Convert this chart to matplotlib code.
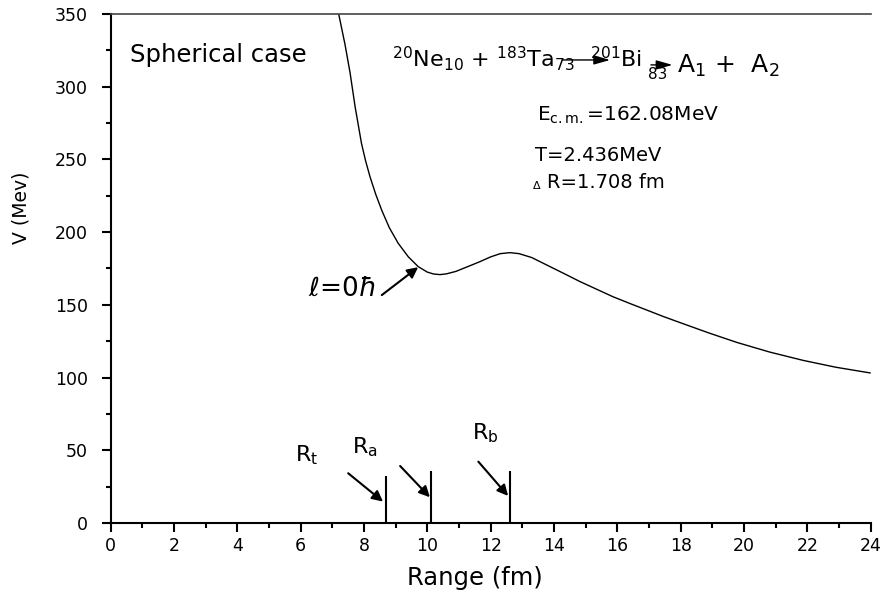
from matplotlib import pyplot as plt
import numpy as np

# potential curve V(R)
r_fm = [7.0, 7.2, 7.4, 7.56, 7.72, 7.92, 8.05, 8.19, 8.37, 8.56, 8.8, 9.08, 9.4,
        9.71, 10.0, 10.2, 10.4, 10.6, 10.9, 11.3, 11.66, 12.0, 12.3, 12.61, 12.9,
        13.3, 13.77, 14.3, 14.82, 15.35, 15.86, 16.4, 16.92, 17.45, 17.98, 18.9,
        19.77, 20.8, 21.87, 22.9, 23.98]
v_mev = [375, 350, 329, 309.5, 286, 261, 249, 238, 226, 215, 203, 192.3, 183,
         176.3, 172.5, 171.2, 170.8, 171.3, 173, 176.5, 179.7, 183.0, 185.2, 185.9, 185.2,
         182.5, 177.4, 171.7, 166, 160.7, 155.6, 150.9, 146.5, 142.0, 137.8, 130.6,
         124.2, 117.6, 111.8, 107.1, 103.2]

# characteristic radii
r_marks = [8.68, 10.13, 12.61]
r_heights = [32.3, 35.8, 35.8]
r_names = [r'R$_\mathrm{t}$', r'R$_\mathrm{a}$', r'R$_\mathrm{b}$']

plt.rcParams['mathtext.fontset'] = 'dejavusans'

fig = plt.figure(figsize=(8.8, 6.01), dpi=100)
ax = fig.add_axes([0.1258, 0.1298, 0.8636, 0.8469])

ax.plot(r_fm, v_mev, color='black', lw=1.0)
ax.vlines(r_marks, 0, r_heights, color='black', lw=1.5)

ax.set_xlim(0, 24)
ax.set_ylim(0, 350)
ax.set_xticks(np.arange(0, 25, 2))
ax.set_xticks(np.arange(0, 25, 1), minor=True)
ax.set_yticks(np.arange(0, 351, 50))
ax.set_yticks(np.arange(0, 351, 25), minor=True)
ax.tick_params(which='major', direction='out', length=6.5, width=1.5, labelsize=12.5)
ax.tick_params(which='minor', direction='out', length=3.5, width=1.5)
ax.tick_params(axis='y', which='major', pad=10)
ax.spines['right'].set_visible(False)
for s in ['left', 'bottom']:
    ax.spines[s].set_linewidth(1.5)
ax.spines['top'].set_linewidth(1.2)
ax.spines['top'].set_color('#444444')

ax.set_xlabel('Range (fm)', fontsize=17.5)
ax.xaxis.set_label_coords(0.479, -0.085)
ax.set_ylabel('V (Mev)', fontsize=13.5)
ax.yaxis.set_label_coords(-0.106, 0.619)

ax.text(0.6, 322, 'Spherical case', fontsize=17.5, va='center')

# reaction
ax.text(8.88, 313.6, r'$^{20}$Ne$_{10}$ + $^{183}$Ta$_{73}$', fontsize=16, va='baseline')
ax.text(15.13, 313.6, r'$^{201}$Bi', fontsize=16, va='baseline')
ax.text(16.98, 305.0, '83', fontsize=11, va='baseline')
ax.text(17.88, 309.5, r'A$_1$ +  A$_2$', fontsize=18, va='baseline')
arr = dict(arrowstyle='-|>,head_length=0.7,head_width=0.2', color='black', lw=1.0,
           mutation_scale=14, shrinkA=0, shrinkB=0)
ax.annotate('', xy=(15.77, 318.4), xytext=(14.27, 318.4), arrowprops=arr)
ax.annotate('', xy=(17.74, 315), xytext=(17.06, 315), arrowprops=arr)

ax.text(13.46, 280.6, r'E$_{\mathrm{c.m.}}$=162.08MeV', fontsize=14.5, va='center')
ax.text(13.4, 253, 'T=2.436MeV', fontsize=14, va='center')
ax.text(13.3, 232.5, r'$\Delta$', fontsize=8, va='center')
ax.text(13.78, 233.8, 'R=1.708 fm', fontsize=14, va='center')

# l = 0 label
ax.text(6.24, 161, r'$\ell$=0$\hbar$', fontsize=19, va='center')
ax.annotate('', xy=(9.71, 175.9), xytext=(8.56, 156.7),
            arrowprops=dict(arrowstyle='-|>', color='black', lw=1.5, mutation_scale=16,
                            shrinkA=0, shrinkB=0))

# radius labels and arrows
lab_pos = [(5.82, 46.8), (7.62, 52), (11.41, 62)]
tails = [(7.50, 34.2), (9.14, 39.2), (11.61, 42.2)]
tips = [(8.60, 14.7), (10.08, 17.7), (12.55, 18.6)]
for name, p, t0, t1 in zip(r_names, lab_pos, tails, tips):
    ax.text(p[0], p[1], name, fontsize=16, va='center')
    ax.annotate('', xy=t1, xytext=t0,
                arrowprops=dict(arrowstyle='-|>', color='black', lw=1.5, mutation_scale=16,
                                shrinkA=0, shrinkB=0))

fig.savefig('out.png', dpi=100)
